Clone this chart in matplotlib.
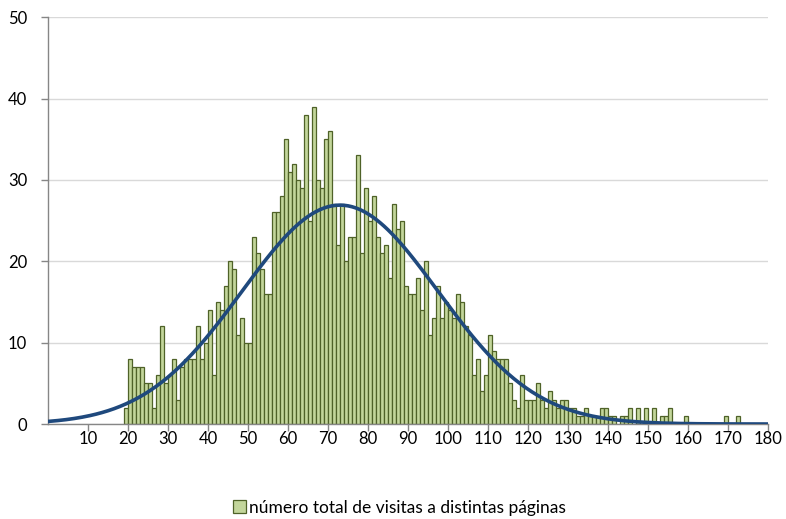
import matplotlib.pyplot as plt
import numpy as np

# Histogram data: number of visitors per total page-visit count (bins of width 1)
first_bin = 19
counts = [2, 8, 7, 7, 7, 5, 5, 2, 6, 12,          # 19-28
          5, 6, 8, 3, 7, 8, 8, 8, 12, 8,           # 29-38
          10, 14, 6, 15, 14, 17, 20, 19, 11, 13,   # 39-48
          10, 10, 23, 21, 19, 16, 16, 26, 26, 28,  # 49-58
          35, 31, 32, 30, 29, 38, 25, 39, 30, 29,  # 59-68
          35, 36, 27, 22, 27, 20, 23, 23, 33, 21,  # 69-78
          29, 25, 28, 23, 21, 22, 18, 27, 24, 25,  # 79-88
          17, 16, 16, 18, 14, 20, 11, 13, 17, 13,  # 89-98
          15, 14, 13, 16, 15, 12, 11, 6, 8, 4,     # 99-108
          6, 11, 9, 8, 8, 8, 5, 3, 2, 6,           # 109-118
          3, 3, 3, 5, 3, 2, 4, 3, 2, 3,            # 119-128
          3, 2, 2, 1, 1, 2, 1, 1, 1, 2,            # 129-138
          2, 1, 1, 0, 1, 1, 2, 0, 2, 0,            # 139-148
          2, 0, 2, 0, 1, 1, 2, 0, 0, 0,            # 149-158
          1, 0, 0, 0, 0, 0, 0, 0, 0, 0,            # 159-168
          1, 0, 0, 1]                              # 169-172

# Fitted normal curve (parameters)
fit_mean = 73.0
fit_sd = 24.5
fit_peak = 26.9

x_ticks = list(range(10, 181, 10))
y_ticks = [0, 10, 20, 30, 40, 50]
legend_label = 'número total de visitas a distintas páginas'

bins = np.arange(first_bin, first_bin + len(counts))
counts = np.array(counts)
mask = counts > 0

curve_x = np.linspace(0, 180, 361)
curve_y = fit_peak * np.exp(-0.5 * ((curve_x - fit_mean) / fit_sd) ** 2)

plt.rcParams['font.family'] = ['Lato', 'DejaVu Sans']

fig = plt.figure(figsize=(7.86, 5.19), dpi=100)
ax = fig.add_axes([0.0611, 0.183, 0.916, 0.784])

ax.bar(bins[mask], counts[mask], width=1.0, align='edge',
       color='#c3d69b', edgecolor='#4f6228', linewidth=0.9,
       label=legend_label, zorder=2)
ax.plot(curve_x, curve_y, color='#1f497d', linewidth=2.6, zorder=3,
        solid_capstyle='round')

ax.set_xlim(0, 180)
ax.set_ylim(0, 50)
ax.set_xticks(x_ticks)
ax.set_xticklabels([str(t) for t in x_ticks], fontsize=12)
ax.set_yticks(y_ticks)
ax.set_yticklabels([str(t) for t in y_ticks], fontsize=12)

ax.yaxis.grid(True, color='#d9d9d9', linewidth=1.0, zorder=0)
ax.set_axisbelow(True)
for side in ['top', 'right']:
    ax.spines[side].set_visible(False)
for side in ['left', 'bottom']:
    ax.spines[side].set_color('#868686')
    ax.spines[side].set_linewidth(1.0)
ax.tick_params(axis='both', colors='#868686', length=5, width=1.0,
               labelcolor='black')
ax.tick_params(axis='x', pad=0)
ax.tick_params(axis='y', pad=10)

fig.legend(loc='center', bbox_to_anchor=(0.508, 0.022), frameon=False,
           fontsize=12.5, handlelength=0.75, handleheight=0.75,
           handletextpad=0.2)

fig.savefig('out.png', dpi=100)
